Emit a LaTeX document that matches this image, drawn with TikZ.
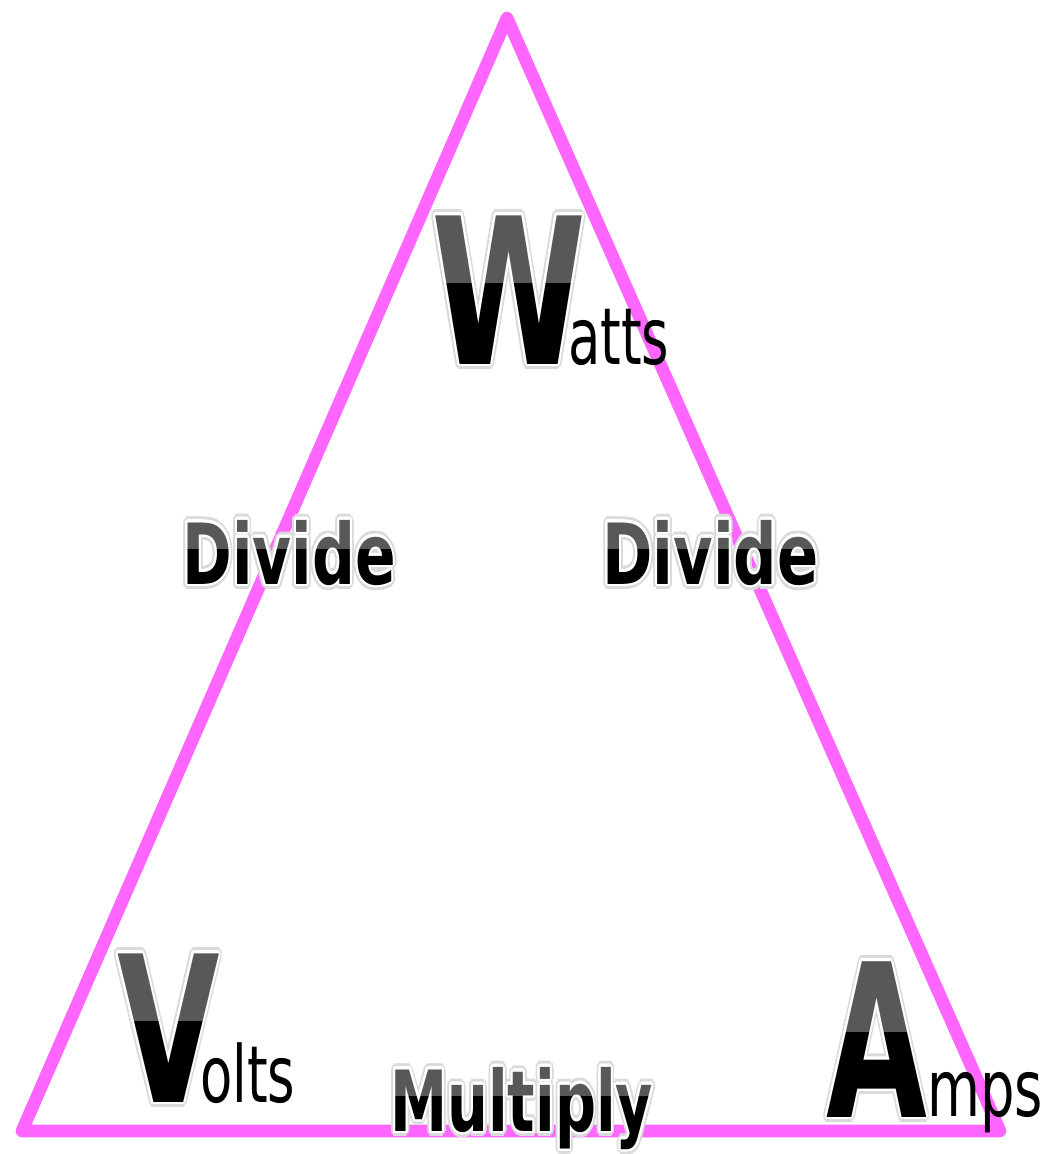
\documentclass[tikz,border=0pt]{standalone}
\usepackage{fontspec}
\setmainfont{DejaVu Sans}
\usepackage{graphicx}
\usepackage[copies]{contour}
\usetikzlibrary{calc}
\definecolor{cMagenta}{RGB}{255,102,255}
\definecolor{cTop}{RGB}{88,88,88}
\definecolor{cGlow}{RGB}{218,218,218}
\tikzset{
	tri/.style   ={draw=cMagenta, line width=9pt, line join=round},
	bigltr/.style={inner sep=0pt, anchor=base west, font={\bfseries\fontsize{145}{145}\selectfont}},
	word/.style  ={inner sep=0pt, anchor=base west, font={\bfseries\fontsize{60}{60}\selectfont}},
	tail/.style  ={inner sep=0pt, anchor=base west, font={\fontsize{56}{56}\selectfont}},
}
\newcommand{\sqz}[2][0.67]{\scalebox{#1}[1]{#2}}
\newcommand{\glow}[2]{\sqz[#1]{\contourlength{4pt}\contour{cGlow}{#2}}}
\newcommand{\rim}[2]{\sqz[#1]{\contourlength{2pt}\contour{white}{#2}}}
% two-tone label: black body, grey upper part, white rim and soft glow
\newcommand{\duo}[5][0.67]{%
	\node[#3, text=cGlow] (#2g) at (#4) {\glow{#1}{#5}};
	\node[#3, text=black] (#2) at (#4) {\rim{#1}{#5}};
	\begin{scope}
		\clip ([shift={(-1cm,1cm)}]#2.north west) rectangle ($(#2.base east)!0.55!(#2.north east)+(1cm,0)$);
		\node[#3, text=cTop] at (#2.base west) {\rim{#1}{#5}};
	\end{scope}}

\begin{document}
\begin{tikzpicture}[x=0.025cm, y=-0.025cm]
	\useasboundingbox (0,0) rectangle (1050,1154);
	\coordinate (top) at (507,18);
	\coordinate (bl) at (22,1131);
	\coordinate (br) at (1000,1131);
	\draw[tri] (top) -- (bl) -- (br) -- cycle;

	% corner words
	\duo[0.69]{wbig}{bigltr}{431,364}{W}
	\node[tail] (watts) at (568,364) {\sqz{atts}};
	\duo[0.65]{vbig}{bigltr}{117,1102}{V}
	\node[tail] (volts) at (200,1102) {\sqz{olts}};
	\duo[0.61]{abig}{bigltr,font={\bfseries\fontsize{152}{152}\selectfont}}{826,1117}{A}
	\node[tail] (amps) at (927,1116) {\sqz[0.69]{mps}};

	% operations
	\duo[0.71]{divl}{word}{182,584}{Divide}
	\duo[0.72]{divr}{word}{602,584}{Divide}
	\duo[0.68]{mult}{word}{390,1131}{Multiply}
\end{tikzpicture}
\end{document}
